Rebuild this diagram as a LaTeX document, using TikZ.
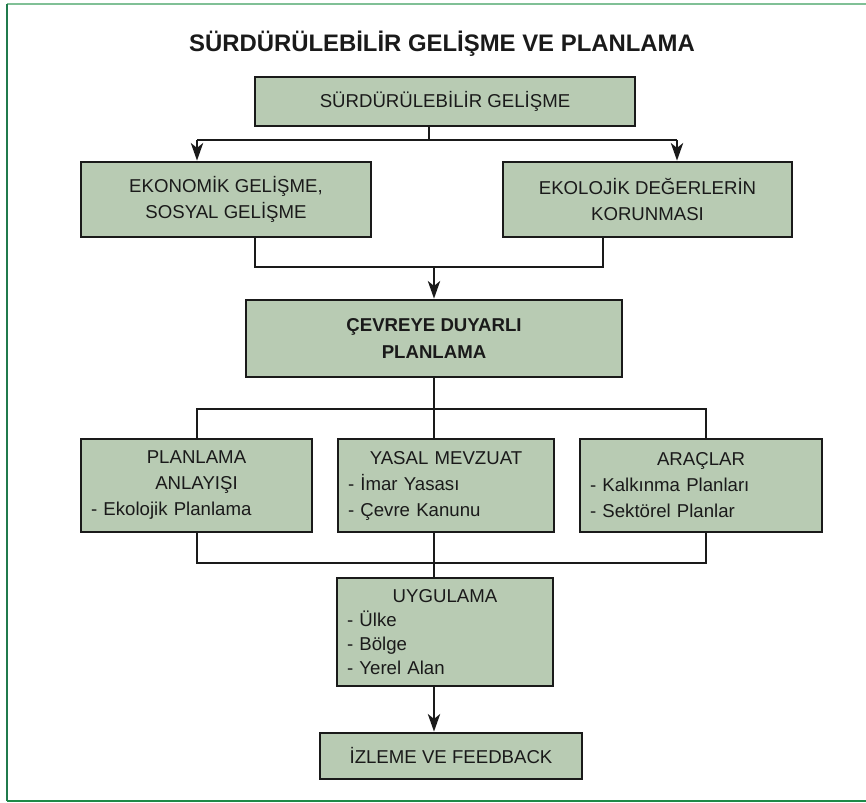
\documentclass[tikz,border=0pt]{standalone}
\usepackage{fontspec}
\setmainfont{Liberation Sans}
\usetikzlibrary{arrows.meta}
\definecolor{kuturenk}{HTML}{B8CBB3}
\definecolor{cizgirenk}{HTML}{1A1A1A}
\definecolor{yesilacik}{HTML}{80C096}
\definecolor{yesilkoyu}{HTML}{207A4C}
\definecolor{yesilorta}{HTML}{1E8A48}

\begin{document}
\begin{tikzpicture}[x=0.02cm, y=-0.02cm,
    kutu/.style={draw=cizgirenk, fill=kuturenk, line width=1.6pt, inner sep=0pt,
      text=cizgirenk, font=\fontsize{10.6}{14.8}\selectfont},
    liste/.style={kutu, align=left},
    baglanti/.style={cizgirenk, line width=1.2pt},
    ok/.style={baglanti, -{Stealth[length=10pt, width=7pt, inset=2.8pt]}}]
  \useasboundingbox (0,0) rectangle (866,803);

  % Cerceve
  \draw[yesilacik, line width=1.2pt] (7,4) -- (866,4);
  \draw[yesilkoyu, line width=1.2pt] (7,4) -- (7,801);
  \draw[yesilorta, line width=1.2pt] (7,801) -- (866,801);

  % Baslik
  \node[text=cizgirenk, font=\bfseries\fontsize{13.6}{16}\selectfont, anchor=base]
    (baslik) at (442,51.5) {SÜRDÜRÜLEBİLİR GELİŞME VE PLANLAMA};

  % Kutular
  \node[kutu, minimum width=7.6cm, minimum height=0.98cm] (ust) at (445,101.5)
    {SÜRDÜRÜLEBİLİR GELİŞME};
  \node[kutu, align=center, minimum width=5.8cm, minimum height=1.5cm] (eko) at (226,199.5)
    {EKONOMİK GELİŞME,\\SOSYAL GELİŞME};
  \node[kutu, align=center, minimum width=5.78cm, minimum height=1.5cm] (kor) at (647.5,199.5)
    {EKOLOJİK DEĞERLERİN\\KORUNMASI};
  \node[kutu, align=center, minimum width=7.52cm, minimum height=1.54cm,
    font=\bfseries\fontsize{10.6}{15.9}\selectfont] (cevre) at (434,338.5)
    {ÇEVREYE DUYARLI\\PLANLAMA};

  \node[liste, text width=4.22cm, minimum width=4.62cm, minimum height=1.86cm] (anlayis) at (196.5,485.5)
    {{\centering PLANLAMA\\ANLAYIŞI\par}- Ekolojik Planlama};
  \node[liste, text width=3.92cm, minimum width=4.32cm, minimum height=1.86cm] (mevzuat) at (446,485.5)
    {{\centering YASAL MEVZUAT\par}- İmar Yasası\\- Çevre Kanunu};
  \node[liste, text width=4.44cm, minimum width=4.84cm, minimum height=1.86cm] (arac) at (701,485.5)
    {{\centering ARAÇLAR\par}- Kalkınma Planları\\- Sektörel Planlar};

  \node[liste, text width=3.92cm, minimum width=4.32cm, minimum height=2.16cm,
    font=\fontsize{10.6}{13.7}\selectfont] (uygulama) at (445,632)
    {{\centering UYGULAMA\par}- Ülke\\- Bölge\\- Yerel Alan};
  \node[kutu, minimum width=5.24cm, minimum height=0.92cm] (izleme) at (451,756)
    {İZLEME VE FEEDBACK};

  % Ayrilma noktalari
  \coordinate (s0) at (429,140);
  \coordinate (s1) at (197,140);
  \coordinate (s2) at (677,140);
  \coordinate (b0) at (434,267);
  \coordinate (b1) at (255,267);
  \coordinate (b2) at (603,267);
  \coordinate (c0) at (434,409);
  \coordinate (c1) at (197,409);
  \coordinate (c2) at (706,409);
  \coordinate (d0) at (434,563);
  \coordinate (d1) at (197,563);
  \coordinate (d2) at (706,563);

  % Baglantilar
  \draw[baglanti] (s0 |- ust.south) -- (s0);
  \draw[baglanti] (s1) -- (s2);
  \draw[ok] (s1) -- (s1 |- eko.north);
  \draw[ok] (s2) -- (s2 |- kor.north);

  \draw[baglanti] (b1 |- eko.south) -- (b1) -- (b2) -- (b2 |- kor.south);
  \draw[ok] (b0) -- (cevre.north);

  \draw[baglanti] (cevre.south) -- (c0 |- mevzuat.north);
  \draw[baglanti] (c1 |- anlayis.north) -- (c1) -- (c2) -- (c2 |- arac.north);

  \draw[baglanti] (d1 |- anlayis.south) -- (d1) -- (d2) -- (d2 |- arac.south);
  \draw[baglanti] (c0 |- mevzuat.south) -- (d0 |- uygulama.north);
  \draw[ok] (d0 |- uygulama.south) -- (d0 |- izleme.north);
\end{tikzpicture}
\end{document}
